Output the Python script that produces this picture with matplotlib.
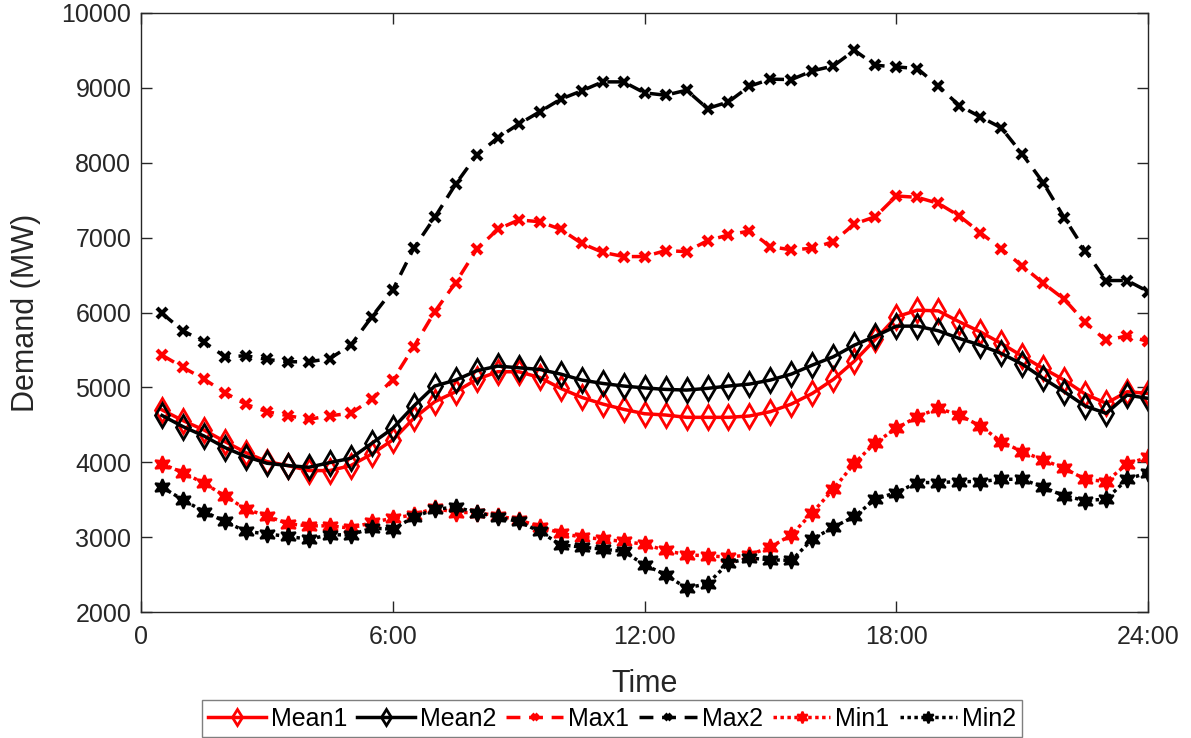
import numpy as np
import matplotlib
matplotlib.use("Agg")
import matplotlib.pyplot as plt

plt.rcParams['font.family'] = ['Liberation Sans', 'DejaVu Sans']

# half-hour time steps (hours)
hours = np.arange(1, 49) * 0.5

mean1 = [4700, 4556, 4431, 4276, 4129, 4009, 3956, 3889, 3889, 3956, 4111, 4298,
         4587, 4809, 4942, 5107, 5209, 5209, 5133, 4987, 4867, 4778, 4707, 4648,
         4631, 4600, 4600, 4600, 4618, 4676, 4778, 4920, 5107, 5351, 5640, 5942,
         6031, 6022, 5876, 5742, 5587, 5418, 5253, 5098, 4911, 4787, 4942, 4920]
mean2 = [4625, 4476, 4351, 4196, 4076, 3987, 3956, 3933, 3996, 4053, 4253, 4453,
         4751, 5018, 5098, 5222, 5284, 5262, 5240, 5178, 5098, 5053, 5018, 4993,
         4973, 4964, 4987, 5018, 5044, 5098, 5178, 5298, 5409, 5564, 5684, 5818,
         5818, 5756, 5653, 5564, 5453, 5311, 5120, 4942, 4751, 4653, 4898, 4853]
max1 = [5431, 5267, 5111, 4929, 4773, 4676, 4622, 4573, 4622, 4653, 4844, 5098,
        5542, 6011, 6400, 6844, 7111, 7236, 7213, 7111, 6924, 6804, 6747, 6747,
        6827, 6813, 6960, 7036, 7089, 6880, 6836, 6858, 6947, 7182, 7280, 7556,
        7538, 7458, 7289, 7067, 6849, 6622, 6391, 6178, 5867, 5627, 5689, 5613]
max2 = [5988, 5757, 5607, 5409, 5422, 5373, 5342, 5342, 5385, 5564, 5942, 6302,
        6858, 7271, 7716, 8102, 8333, 8516, 8680, 8849, 8960, 9080, 9080, 8933,
        8902, 8969, 8724, 8813, 9022, 9116, 9111, 9227, 9293, 9502, 9302, 9280,
        9258, 9022, 8764, 8613, 8467, 8116, 7733, 7267, 6827, 6427, 6427, 6280]
min1 = [3978, 3862, 3720, 3551, 3373, 3284, 3178, 3151, 3151, 3120, 3196, 3253,
        3298, 3387, 3329, 3329, 3284, 3231, 3142, 3053, 3000, 2973, 2942, 2905,
        2822, 2764, 2751, 2733, 2764, 2867, 3031, 3329, 3640, 3987, 4262, 4453,
        4609, 4720, 4631, 4484, 4276, 4142, 4031, 3920, 3773, 3742, 3978, 4067]
min2 = [3667, 3498, 3342, 3209, 3076, 3044, 3009, 2973, 3031, 3031, 3120, 3107,
        3267, 3373, 3400, 3329, 3267, 3209, 3076, 2898, 2867, 2840, 2809, 2631,
        2498, 2320, 2378, 2653, 2720, 2698, 2689, 2973, 3133, 3276, 3507, 3596,
        3729, 3729, 3742, 3742, 3773, 3773, 3667, 3551, 3489, 3507, 3773, 3862]

xticks = [0, 6, 12, 18, 24]
xtick_labels = ['0', '6:00', '12:00', '18:00', '24:00']

fig = plt.figure(figsize=(11.91, 7.38), dpi=100)
ax = fig.add_axes([0.1184, 0.1707, 0.8456, 0.8117])

lw = 2.5
hexa = (6, 1, 0)
ax.plot(hours, mean1, color='red', lw=lw, ls='-', marker='d', ms=12,
        mfc='none', mew=2, label='Mean1')
ax.plot(hours, mean2, color='black', lw=lw, ls='-', marker='d', ms=12,
        mfc='none', mew=2, label='Mean2')
ax.plot(hours, max1, color='red', lw=lw, ls=(0, (4, 2.5)), marker='x', ms=7,
        mew=3, label='Max1')
ax.plot(hours, max2, color='black', lw=lw, ls=(0, (4, 2.5)), marker='x', ms=7,
        mew=3, label='Max2')
ax.plot(hours, min1, color='red', lw=lw, ls=(0, (1, 1)), marker=hexa, ms=12,
        mfc='red', mew=1.5, label='Min1')
ax.plot(hours, min2, color='black', lw=lw, ls=(0, (1, 1)), marker=hexa, ms=12,
        mfc='black', mew=1.5, label='Min2')

ax.set_xlim(0, 24)
ax.set_ylim(2000, 10000)
ax.set_xticks(xticks)
ax.set_xticklabels(xtick_labels)
ax.set_yticks(np.arange(2000, 10001, 1000))
ax.tick_params(axis='both', direction='in', length=8, width=1, top=True,
               right=True, labelsize=18, colors='#262626')
ax.tick_params(axis='x', pad=9)
ax.tick_params(axis='y', pad=7)
for s in ax.spines.values():
    s.set_color('#262626')
    s.set_linewidth(1)

ax.set_xlabel('Time', fontsize=22, color='#262626')
ax.set_ylabel('Demand (MW)', fontsize=22, color='#262626')
ax.xaxis.set_label_coords(0.5, -0.095)
ax.yaxis.set_label_coords(-0.099, 0.5)

leg = fig.legend(loc='lower center', bbox_to_anchor=(0.514, 0.0), ncol=6,
                 fontsize=18, frameon=True, fancybox=False, framealpha=1,
                 edgecolor='#7f7f7f', handlelength=2.3, handletextpad=0.2,
                 columnspacing=0.4, borderpad=0.25, borderaxespad=0.05,
                 markerscale=0.7)
leg.get_frame().set_linewidth(1)

fig.savefig('out.png', dpi=100)
